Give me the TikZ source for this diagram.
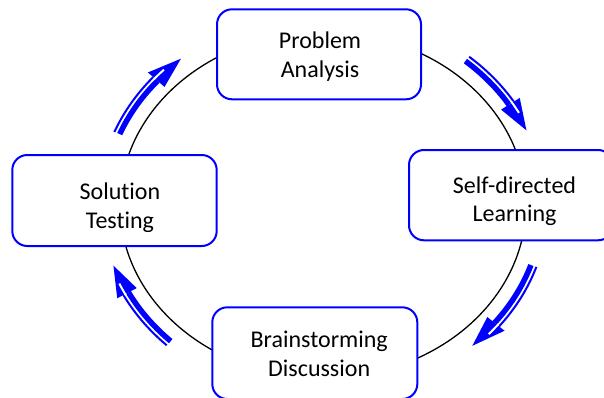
\documentclass[tikz,border=0pt]{standalone}
\usepackage{fontspec}
\setmainfont{Carlito}[Ligatures=NoCommon]
\newcommand\cycarrow[2]{% #1 tail angle, #2 tip angle (parametric, clockwise)
  \pgfmathsetmacro\cycHB{#2+9}%
  \pgfmathsetmacro\cycHG{#2+5.5}%
  \draw[arrowblue, line width=5.5pt] plot[domain=#1:\cycHB, samples=30] ({323+219.25*cos(\x)},{192+189.25*sin(\x)});
  \draw[arrowblue, line width=2pt] plot[domain=#1:\cycHB, samples=30] ({323+225*cos(\x)},{192+195*sin(\x)});
  \fill[arrowblue] ({323+210*cos(\cycHB)},{192+180*sin(\cycHB)}) -- ({323+232*cos(\cycHB)},{192+202*sin(\cycHB)}) -- ({323+221*cos(#2)},{192+191*sin(#2)}) -- cycle;
  \draw[white, line width=2pt] plot[domain=\cycHB+0.3:\cycHG, samples=6] ({323+223*cos(\x)},{192+193*sin(\x)});
}
\begin{document}
\begin{tikzpicture}[x=1pt,y=1pt,
  box/.style={draw=blue, line width=2pt, rounded corners=15pt, fill=white,
    minimum width=204pt, minimum height=90pt, inner sep=0pt},
  lbl/.style={align=center, anchor=base, inner sep=0pt,
    font=\fontsize{24}{28.5}\selectfont},
  cyc/.style={black, line width=1.3pt},
  arrowblue/.style={blue}]
\useasboundingbox (0,0) rectangle (604,397);
% cycle line
\draw[cyc] (323,192) ellipse [x radius=203pt, y radius=173pt];
% curved arrows
\cycarrow{49.5}{23}
\cycarrow{158}{130}
\cycarrow{-18.5}{-47.5}
\cycarrow{226}{198.5}
% boxes
\node[box] (pa) at (319,342.7) {};
\node[box, minimum height=90.3pt] (sl) at (511,201.85) {};
\node[box, minimum width=204.4pt, minimum height=91pt] (st) at (114.5,196.5) {};
\node[box, minimum width=205pt, minimum height=91.7pt] (bd) at (314.8,43.85) {};
% labels (base anchor = baseline of the last line)
\node[lbl] (paT) at (320,319.5) {Problem\\Analysis};
\begin{scope}
  \clip (409,172) rectangle (604,247);
  \node[lbl] (slT) at (514.5,175.3) {Self-directed\\Learning};
\end{scope}
\begin{scope}
  \clip (12,166) rectangle (217,242);
  \node[lbl] (stT) at (120,169) {Solution\\Testing};
\end{scope}
\node[lbl] (bdT) at (319.2,21) {Brainstorming\\Discussion};
\end{tikzpicture}
\end{document}
